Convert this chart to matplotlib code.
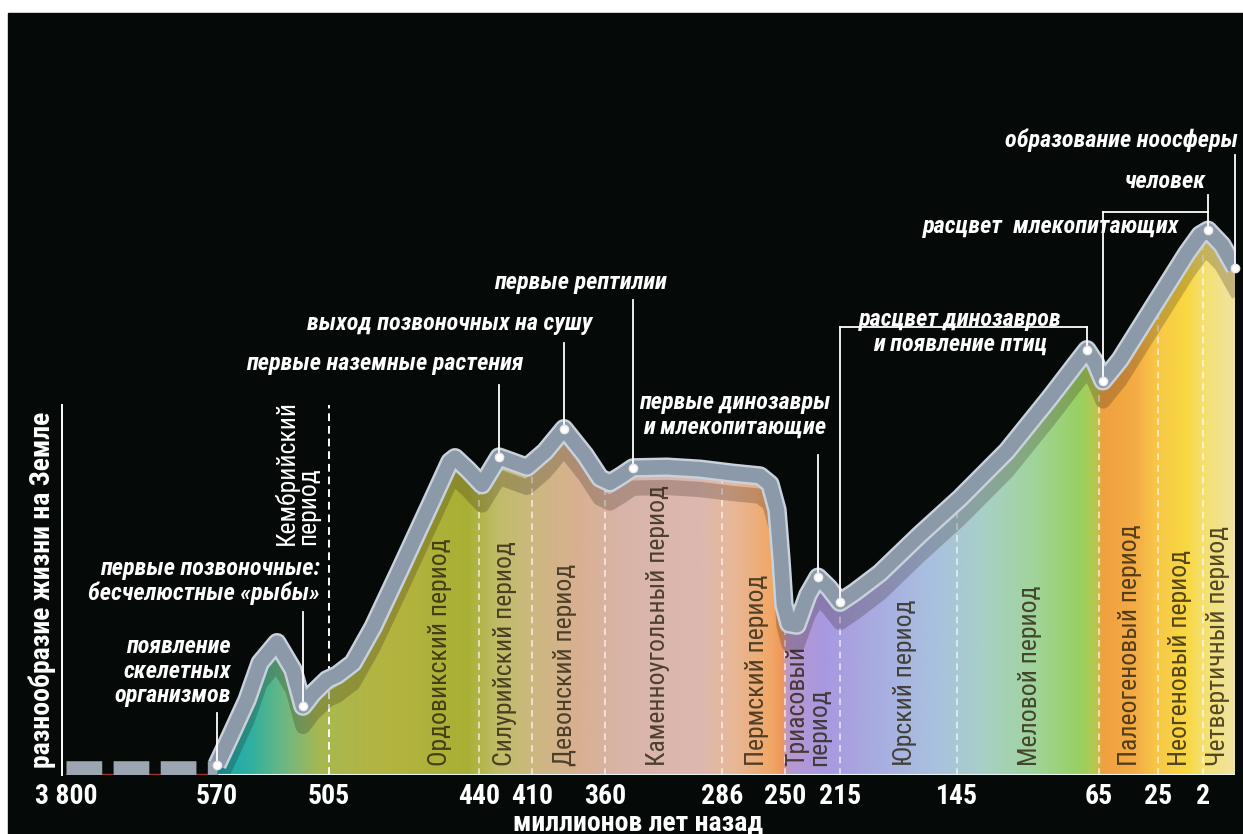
import numpy as np
import matplotlib
matplotlib.use('Agg')
import matplotlib.pyplot as plt
from matplotlib import font_manager
from matplotlib.colors import to_rgb

W, H = 1243, 834

# curve: diversity of life vs time (Ma)
CURVE_T = [570, 562.5, 552.6, 545.0, 535.2, 525.9, 520.1, 514.3, 506.2, 501.5, 494.6,
           485.9, 474.2, 461.2, 452.6, 450.4, 444.8, 438.3, 428.7, 412.8, 401.1, 388.1,
           373.7, 363.4, 356.8, 349.2, 342.3, 320.8, 299.9, 279.7, 264.3, 258.6, 254.6,
           252.3, 250.6, 247.5, 242.4, 235.4, 229.0, 222.0, 215, 206.0, 191.1, 167.2,
           143.3, 116.8, 92.6, 78.6, 71.8, 67.3, 62.3, 50.8, 28.4, 10.2, 3.5, 1.69, 0.81, 0]
CURVE_Y = [1.5, 5.6, 11.1, 16.6, 19.6, 15.6, 10.2, 12.1, 14.1, 14.8, 16.6,
           21.9, 30.4, 40.0, 46.4, 47.0, 45.2, 43.0, 47.1, 45.6, 47.9, 51.3,
           47.4, 44.0, 43.3, 44.4, 45.5, 45.6, 45.3, 44.7, 44.3, 43.1, 39.3,
           31.9, 25.2, 22.4, 22.2, 26.7, 29.3, 27.7, 25.6, 27.1, 29.9, 35.6,
           41.0, 48.0, 55.9, 60.7, 63.0, 61.2, 58.4, 61.5, 69.3, 77.3, 80.0, 80.7, 78.5, 75.1]

# axis: non-linear time scale (knots of the original drawing)
SCALE_T = [3800, 570, 505, 440, 410, 360, 286, 250, 215, 145, 65, 25, 2, 0]
SCALE_P = [66, 217, 329, 479, 532, 605, 722, 785, 840, 957, 1099, 1158, 1203, 1235]
TICKS = [3800, 570, 505, 440, 410, 360, 286, 250, 215, 145, 65, 25, 2]
TICK_LABELS = ['3 800', '570', '505', '440', '410', '360', '286', '250', '215', '145', '65', '25', '2']
BOUNDS = [440, 410, 360, 286, 250, 215, 145, 65, 25, 2]

PERIODS = ['Ордовикский период', 'Силурийский период', 'Девонский период',
           'Каменноугольный период', 'Пермский период', 'Триасовый\nпериод',
           'Юрский период', 'Меловой период', 'Палеогеновый период',
           'Неогеновый период', 'Четвертичный период']
PERIOD_T = [457, 425.3, 387.4, 326.5, 266, 235.4, 176.1, 103.9, 44, 13.8, 1.06]

# events on the curve: time, value, top of the leader line
EVENT_T = [570, 520.1, 428.7, 388.1, 342.3, 229.0, 215, 71.8, 62.3, 1.69, 0]
EVENT_Y = [1.5, 10.2, 47.1, 51.3, 45.5, 29.3, 25.6, 63.0, 58.4, 80.7, 75.1]
EVENT_TOP = [9.2, 24.1, 57.8, 64.0, 70.4, 47.4, 66.4, 66.4, 83.4, 85.9, 91.9]

GRAD_T = [570, 550, 530, 510, 480, 445, 430, 410, 380, 350, 300, 280, 258, 252, 248,
          225, 200, 160, 130, 100, 75, 67, 62, 40, 25, 10, 2, 0]
GRAD_C = ['#18a8b0', '#30b0a0', '#70b880', '#a8b850', '#b4b440', '#a8b034', '#c0bc68',
          '#ccb880', '#d8b090', '#d8b4a8', '#dcb8b0', '#e8b898', '#f0a868', '#f09858',
          '#b898d0', '#a898e0', '#a8a8e0', '#a8c0e0', '#a8d0c8', '#a0d498', '#98d060',
          '#b8c850', '#f0a040', '#f4ac44', '#f8c848', '#f8d840', '#f4e070', '#f0e4a0']

names = {f.name for f in font_manager.fontManager.ttflist}
narrow = 'DejaVu Sans'
for n in ['Roboto Condensed', 'Liberation Sans Narrow', 'PT Sans Narrow', 'Open Sans Condensed']:
    if n in names:
        narrow = n
        break
plt.rcParams['font.family'] = [narrow, 'DejaVu Sans']


def forward(t):
    return np.interp(-np.asarray(t, dtype=float), -np.array(SCALE_T, dtype=float), SCALE_P)


def inverse(p):
    return np.interp(np.asarray(p, dtype=float), SCALE_P, SCALE_T)


def fpx(x, y):
    return x / W, 1 - y / H


fig = plt.figure(figsize=(W / 100, H / 100), dpi=100, facecolor='white')
fig.patches.append(plt.Rectangle((8 / W, 0), 1, 1 - 13 / H, transform=fig.transFigure,
                                 color='#050907', zorder=-10))

x0, x1 = SCALE_P[0], SCALE_P[-1]
ax = fig.add_axes([x0 / W, 59 / H, (x1 - x0) / W, 675 / H])
ax.set_facecolor('none')
ax.set_xscale('function', functions=(forward, inverse))

# gradient under the curve
fr = (forward(GRAD_T) - x0) / (x1 - x0)
cols = np.linspace(0, 1, 1200)
rgb = np.array([to_rgb(c) for c in GRAD_C])
img = np.stack([np.interp(cols, fr, rgb[:, k]) for k in range(3)], axis=-1)[None, :, :]
poly = ax.fill_between(CURVE_T, 0, CURVE_Y, color='none', lw=0)
im = ax.imshow(img, extent=[0, 1, 0, 1], transform=ax.transAxes, aspect='auto', zorder=1)
clip = (poly.get_paths()[0], ax.transData)
im.set_clip_path(*clip)

# period boundaries
for b in BOUNDS:
    ln, = ax.plot([b, b], [0, 100], color='white', alpha=0.7, lw=1.2, ls=(0, (4, 3)), zorder=2)
    ln.set_clip_path(*clip)
ax.plot([505, 505], [0, 54.8], color='white', lw=1.4, ls=(0, (4, 2.5)), zorder=2)

# shadow under the band
sh, = ax.plot(CURVE_T, np.array(CURVE_Y) - 3.0, color='#201008', alpha=0.22, lw=11,
              solid_joinstyle='round', zorder=2)
sh.set_clip_path(*clip)

for name, t in zip(PERIODS, PERIOD_T):
    ax.text(t, 1.3, name, rotation=90, ha='center', va='bottom', multialignment='left',
            fontsize=18.5, color='#2a2210', alpha=0.8, zorder=3, linespacing=0.9)

ax.text(523.6, 34.1, 'Кембрийский\nпериод', rotation=90, ha='center', va='bottom',
        multialignment='left', fontsize=18.5, color='white', zorder=3, linespacing=0.9)

# baseline
ax.plot([570, 0], [0, 0], color='#e8f4f4', lw=1.5, zorder=3)
ax.plot([3800, 570], [0.2, 0.2], color='#a03030', lw=1, zorder=3)
ax.plot([3800, 572], [1.0, 1.0], color='#9ba6b2', lw=10.5, solid_capstyle='butt',
        dashes=(2.45, 0.78), zorder=4)

# band
ax.plot(CURVE_T, CURVE_Y, color='#c9d2dc', lw=14, solid_joinstyle='round',
        solid_capstyle='butt', zorder=4)
ax.plot(CURVE_T, CURVE_Y, color='#8b99a8', lw=10.5, solid_joinstyle='round',
        solid_capstyle='butt', zorder=5)

# leaders
for t, y, top in zip(EVENT_T, EVENT_Y, EVENT_TOP):
    ax.plot([t, t], [y, top], color='white', lw=1.3, zorder=6, clip_on=False)
ax.plot([EVENT_T[6], EVENT_T[7]], [EVENT_TOP[6], EVENT_TOP[7]], color='white', lw=1.3, zorder=6)
ax.plot([EVENT_T[8], EVENT_T[9]], [EVENT_TOP[8], EVENT_TOP[8]], color='white', lw=1.3, zorder=6)
ax.plot(EVENT_T, EVENT_Y, 'o', ms=6, mfc='white', mec='#e8e8e8', zorder=7, clip_on=False)

# FuncScale bbox logic needs the increasing order here; 3800 still ends up on the left
ax.set_xlim(0, 3800)
ax.set_ylim(0, 100)
ax.set_xticks(TICKS)
ax.set_xticklabels(TICK_LABELS)
ax.set_yticks([])
ax.tick_params(axis='x', length=0, pad=6, labelsize=20, labelcolor='white')
for lab in ax.get_xticklabels():
    lab.set_fontweight('bold')
for s in ['top', 'right', 'bottom']:
    ax.spines[s].set_visible(False)
ax.spines['left'].set_color('white')
ax.spines['left'].set_linewidth(1.4)
ax.spines['left'].set_bounds(0, 54.8)
ax.spines['left'].set_position(('outward', 3))

fig.text(*fpx(42, 590), 'разнообразие жизни на Земле', rotation=90, ha='center', va='center',
         fontsize=20, fontweight='bold', color='white')
fig.text(*fpx(638, 836), 'миллионов лет назад', ha='center', va='bottom',
         fontsize=20, fontweight='bold', color='white')

ann = dict(color='white', fontsize=17.5, fontweight='bold', style='italic', linespacing=1.1)
fig.text(*fpx(1238, 140), 'образование ноосферы', ha='right', va='center', **ann)
fig.text(*fpx(1165, 181), 'человек', ha='center', va='center', **ann)
fig.text(*fpx(1051, 226), 'расцвет  млекопитающих', ha='center', va='center', **ann)
fig.text(*fpx(960, 332), 'расцвет динозавров\nи появление птиц', ha='center', va='center', **ann)
fig.text(*fpx(735, 415), 'первые динозавры\nи млекопитающие', ha='center', va='center', **ann)
fig.text(*fpx(580, 282), 'первые рептилии', ha='center', va='center', **ann)
fig.text(*fpx(450, 323), 'выход позвоночных на сушу', ha='center', va='center', **ann)
fig.text(*fpx(385, 364), 'первые наземные растения', ha='center', va='center', **ann)
fig.text(*fpx(320, 581), 'первые позвоночные:\nбесчелюстные «рыбы»', ha='right', va='center',
         multialignment='right', **ann)
fig.text(*fpx(231, 671), 'появление\nскелетных\nорганизмов', ha='right', va='center',
         multialignment='right', **ann)

fig.savefig('out.png', dpi=100, facecolor='white')
